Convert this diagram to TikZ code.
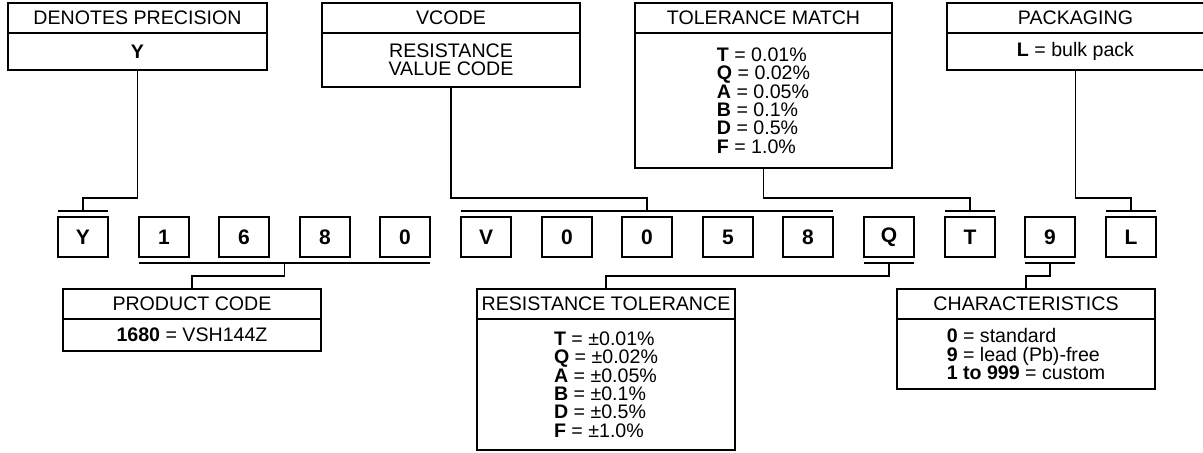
\documentclass[tikz,border=0pt]{standalone}
\usepackage{fontspec}
\setmainfont{Liberation Sans}

\begin{document}
\begin{tikzpicture}[x=0.5pt,y=-0.5pt,
    box/.style={draw, line width=0.7pt, outer sep=0pt, inner sep=1pt},
    hdr/.style={box, minimum height=15pt, font=\fontsize{9.8}{9.15}\selectfont},
    txt/.style={box, align=left, font=\fontsize{9.8}{9.15}\selectfont},
    chr/.style={box, minimum width=25pt, minimum height=20pt, font=\fontsize{10.5}{12}\selectfont\bfseries},
    rule/.style={line width=1.2pt},
    link/.style={line width=0.55pt}]
        \useasboundingbox (0,0) rectangle (1203,452);

        % boxes on top
        \node[hdr, minimum width=129.5pt, anchor=north west] (precH) at (8,3) {DENOTES PRECISION};
        \node[txt, minimum width=129.5pt, minimum height=18.5pt, anchor=north, align=center] (precB) at (precH.south) {\textbf{Y}};
        \node[hdr, minimum width=129pt, anchor=north west] (vcodeH) at (322,3) {VCODE};
        \node[txt, minimum width=129pt, minimum height=27pt, anchor=north, align=center] (vcodeB) at (vcodeH.south) {RESISTANCE\\VALUE CODE};
        \node[hdr, minimum width=128.5pt, anchor=north west] (matchH) at (635,3) {TOLERANCE MATCH};
        \node[txt, minimum width=128.5pt, minimum height=67.5pt, anchor=north] (matchB) at (matchH.south)
            {\textbf{T} = 0.01\%\\\textbf{Q} = 0.02\%\\\textbf{A} = 0.05\%\\\textbf{B} = 0.1\%\\\textbf{D} = 0.5\%\\\textbf{F} = 1.0\%};
        \node[hdr, minimum width=128.5pt, anchor=north west] (packH) at (947,3) {PACKAGING};
        \node[txt, minimum width=128.5pt, minimum height=18.5pt, anchor=north, align=center] (packB) at (packH.south) {\textbf{L} = bulk pack};

        % part number
        \node[chr] (pY) at (83,237) {Y};
        \node[chr] (p1) at (164,237) {1};
        \node[chr] (p6) at (244,237) {6};
        \node[chr] (p8) at (325,237) {8};
        \node[chr] (p0) at (405,237) {0};
        \node[chr] (pV) at (486,237) {V};
        \node[chr] (pRa) at (567,237) {0};
        \node[chr] (pRb) at (647,237) {0};
        \node[chr] (pRc) at (728,237) {5};
        \node[chr] (pRd) at (808,237) {8};
        \node[chr] (pQ) at (889,237) {Q};
        \node[chr] (pT) at (970,237) {T};
        \node[chr] (p9) at (1050,237) {9};
        \node[chr] (pL) at (1131,237) {L};

        % boxes below
        \node[hdr, minimum width=129pt, anchor=north west] (prodH) at (63,289) {PRODUCT CODE};
        \node[txt, minimum width=129pt, minimum height=16pt, anchor=north, align=center] (prodB) at (prodH.south) {\textbf{1680} = VSH144Z};
        \node[hdr, minimum width=129pt, anchor=north west] (tolH) at (477,289) {RESISTANCE TOLERANCE};
        \node[txt, minimum width=129pt, minimum height=65.5pt, anchor=north] (tolB) at (tolH.south)
            {\textbf{T} = ±0.01\%\\\textbf{Q} = ±0.02\%\\\textbf{A} = ±0.05\%\\\textbf{B} = ±0.1\%\\\textbf{D} = ±0.5\%\\\textbf{F} = ±1.0\%};
        \node[hdr, minimum width=129pt, anchor=north west] (charH) at (897,289) {CHARACTERISTICS};
        \node[txt, minimum width=129pt, minimum height=35pt, anchor=north] (charB) at (charH.south)
            {\textbf{0} = standard\\\textbf{9} = lead (Pb)-free\\\textbf{1 to 999} = custom};

        % bars over and under the groups
        \draw[rule] ([yshift=3pt]pY.north west) -- ([yshift=3pt]pY.north east) coordinate[midway] (barY);
        \draw[rule] ([yshift=3pt]pV.north west) -- ([yshift=3pt]pRd.north east) coordinate[midway] (barV);
        \draw[rule] ([yshift=3pt]pT.north west) -- ([yshift=3pt]pT.north east) coordinate[midway] (barT);
        \draw[rule] ([yshift=3pt]pL.north west) -- ([yshift=3pt]pL.north east) coordinate[midway] (barL);
        \draw[rule] ([yshift=-3pt]p1.south west) -- ([yshift=-3pt]p0.south east) coordinate[midway] (barP);
        \draw[rule] ([yshift=-3pt]pQ.south west) -- ([yshift=-3pt]pQ.south east) coordinate[midway] (barQ);
        \draw[rule] ([yshift=-3pt]p9.south west) -- ([yshift=-3pt]p9.south east) coordinate[midway] (bar9);

        % leaders
        \coordinate (upper) at (0,198);
        \coordinate (lower) at (0,276);
        \draw[link] (precB.south) |- (upper -| barY) -- (barY);
        \draw[link] (vcodeB.south) |- (upper -| barV) -- (barV);
        \draw[link] (matchB.south) |- (upper -| barT) -- (barT);
        \draw[link] (packB.south) |- (upper -| barL) -- (barL);
        \draw[link] (prodH.north) |- (lower -| barP) -- (barP);
        \draw[link] (tolH.north) |- (lower -| barQ) -- (barQ);
        \draw[link] (charH.north) |- (lower -| bar9) -- (bar9);
    \end{tikzpicture}
\end{document}
